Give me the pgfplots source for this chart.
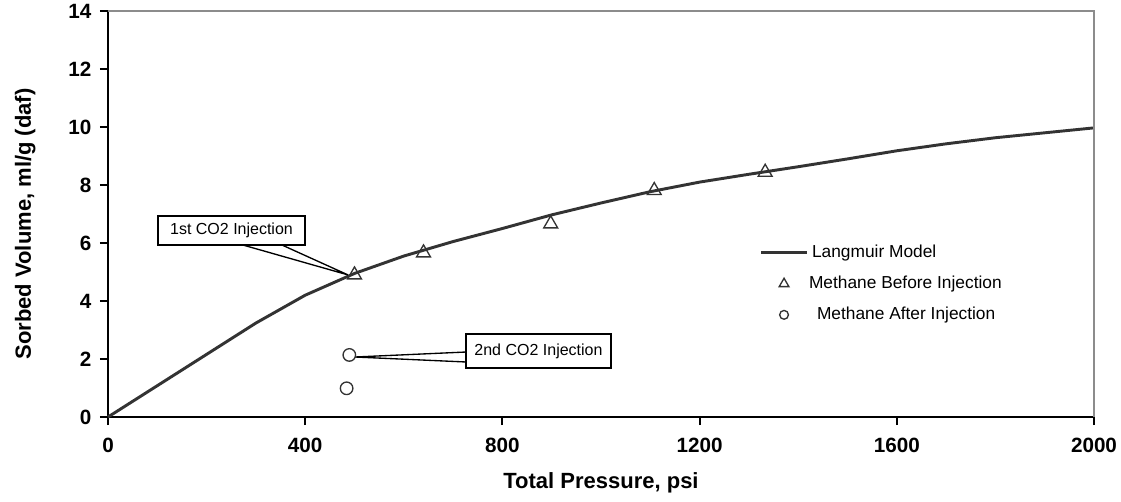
\documentclass[border=0pt]{standalone}
\usepackage{fontspec}
\setmainfont{Liberation Sans}
\usepackage{pgfplots}
\pgfplotsset{compat=1.18}

\definecolor{curve}{HTML}{333333}
\definecolor{frame}{HTML}{8C8C8C}

\begin{document}
\begin{tikzpicture}
\begin{axis}[
  scale only axis, width=739.5pt, height=304.5pt,
  xmin=0, xmax=2000, ymin=0, ymax=14,
  clip=false,
  axis x line*=bottom, axis y line*=left,
  axis line style={black, line width=2pt},
  xtick={0,400,...,2000}, ytick={0,2,...,14},
  tick align=outside, major tick length=6pt,
  tick style={black, line width=1.6pt},
  /pgf/number format/assume math mode=true,
  /pgf/number format/1000 sep={},
  tick label style={font=\bfseries\fontsize{15.5}{17}\selectfont},
  xticklabel style={yshift=-6pt},
  yticklabel style={xshift=-3pt},
  xlabel={Total Pressure, psi},
  ylabel={Sorbed Volume, ml/g (daf)},
  label style={font=\bfseries\fontsize{16.5}{18}\selectfont},
  xlabel style={at={([yshift=-49pt]axis description cs:0.5,0)}, anchor=center},
  ylabel style={at={([xshift=-62pt,yshift=-7.5pt]axis description cs:0,0.5)}, anchor=center},
  legend style={at={(axis cs:1422,5.96)}, anchor=north west, draw=none, fill=none,
    inner sep=0pt, outer sep=0pt, row sep=10.25pt, column sep=0pt,
    font=\fontsize{13}{13}\selectfont,
    nodes={inner sep=0pt, text height=10pt, text depth=3pt}},
  legend cell align=left,
]
% Langmuir isotherm fit
\addplot[curve, line width=2.2pt, line join=round,
  legend image code/.code={
    \draw[overlay, curve, line width=2.2pt] (-36pt,0pt) -- (-1.5pt,0pt);
    \path[draw=none, fill=none] (0pt,-6.5pt) -- (0pt,6.5pt);
  }] coordinates {
  (0,0) (300,3.24) (400,4.2) (500,4.95) (600,5.55) (700,6.05)
  (800,6.5) (900,6.97) (1000,7.38) (1100,7.77) (1200,8.1)
  (1300,8.37) (1400,8.63) (1500,8.9) (1600,9.18) (1700,9.42)
  (1800,9.63) (1900,9.8) (2000,9.97)
};
\addlegendentry{\hspace*{2.25pt}Langmuir Model}

% measured methane sorption before CO2 injection
\addplot[only marks, mark=triangle, mark size=6pt,
  mark options={draw=curve, line width=1pt},
  legend image code/.code={
    \draw[overlay, draw=curve, line width=0.8pt] plot[mark=triangle, mark size=4.2pt] coordinates {(-18.75pt,0pt)};
    \path[draw=none, fill=none] (0pt,-6.5pt) -- (0pt,6.5pt);
  }] coordinates {
  (500,4.9) (640,5.66) (898,6.66) (1108,7.81) (1333,8.44)
};
\addlegendentry{Methane Before Injection}

% methane remaining after CO2 injections
\addplot[only marks, mark=o, mark size=4.7pt,
  mark options={draw=curve, line width=1pt},
  legend image code/.code={
    \draw[overlay, draw=curve, line width=0.8pt] plot[mark=o, mark size=3.3pt] coordinates {(-18.75pt,0pt)};
    \path[draw=none, fill=none] (0pt,-6.5pt) -- (0pt,6.5pt);
  }] coordinates {
  (489.5,2.14) (484,0.99)
};
\addlegendentry{\hspace*{6pt}Methane After Injection}

% plot area frame on top and right
\draw[frame, line width=1.1pt] (rel axis cs:0,1) -- (rel axis cs:1,1) -- (rel axis cs:1,0);

% callouts
\draw[black, line width=1pt, fill=white] (axis cs:273.8,5.93) -- (axis cs:486.8,4.90) -- (axis cs:353,5.93);
\draw[black, line width=1pt, fill=white] (axis cs:101.4,6.93) rectangle (axis cs:399.6,5.93);
\node[font=\fontsize{12}{12}\selectfont] at (axis cs:250.5,6.43) {1st CO2 Injection};

\draw[black, line width=1pt, fill=white] (axis cs:726.2,2.241) -- (axis cs:501,2.069) -- (axis cs:726.2,1.897);
\draw[black, line width=1pt, fill=white] (axis cs:726.2,2.862) rectangle (axis cs:1020.3,1.690);
\node[font=\fontsize{12}{12}\selectfont] at (axis cs:873.2,2.276) {2nd CO2 Injection};
\end{axis}
\pgfresetboundingbox
\path[use as bounding box] (-81pt,-63pt) rectangle (759.75pt,312.75pt);
\end{tikzpicture}
\end{document}
